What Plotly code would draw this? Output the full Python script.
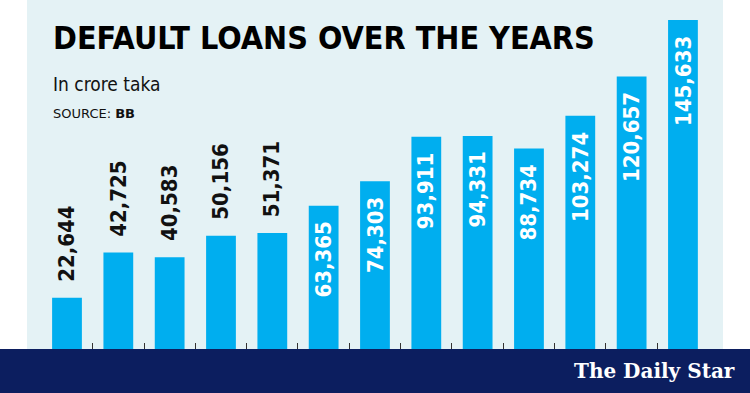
import plotly.graph_objects as go

# ---- data ----
positions = list(range(13))
values = [22644, 42725, 40583, 50156, 51371, 63365, 74303, 93911, 94331, 88734, 103274, 120657, 145633]
labels = [f"{v:,}" for v in values]
n_outside = 5  # first five labels sit above the bars

title = "DEFAULT LOANS OVER THE YEARS"
subtitle = "In crore taka"
source = "SOURCE: <b>BB</b>"
brand = "The Daily Star"

BAR = "#00AEEF"
PANEL = "#E4F2F5"
NAVY = "#0C1E5F"
COND = "DejaVu Sans Condensed, Liberation Sans Narrow, DejaVu Sans, sans-serif"

W, H = 750, 393
fig = go.Figure(go.Bar(x=positions, y=values, marker_color=BAR, marker_line_width=0,
                       width=0.58, hoverinfo="skip"))

ann = []
for i, (p, v, t) in enumerate(zip(positions, values, labels)):
    if i < n_outside:
        ann.append(dict(x=p, y=v, text=f"<b>{t}</b>", textangle=-90, showarrow=False,
                        xanchor="center", yanchor="bottom", yshift=14,
                        font=dict(family=COND, size=22, color="#111111")))
    else:
        ann.append(dict(x=p, y=v, text=f"<b>{t}</b>", textangle=-90, showarrow=False,
                        xanchor="center", yanchor="top", yshift=-14,
                        font=dict(family=COND, size=22, color="white")))

ann += [
    dict(xref="paper", yref="paper", x=51 / W, y=1 - 38 / 349, xanchor="left", yanchor="middle",
         text=f"<b>{title}</b>", showarrow=False,
         font=dict(family=COND, size=32, color="#000000")),
    dict(xref="paper", yref="paper", x=51 / W, y=1 - 84 / 349, xanchor="left", yanchor="middle",
         text=subtitle, showarrow=False,
         font=dict(family=COND, size=19, color="#111111")),
    dict(xref="paper", yref="paper", x=51 / W, y=1 - 113 / 349, xanchor="left", yanchor="middle",
         text=source, showarrow=False,
         font=dict(family="DejaVu Sans, sans-serif", size=13, color="#111111")),
    dict(xref="paper", yref="paper", x=737 / W, y=-22 / 349, xanchor="right", yanchor="middle",
         text=f"<b>{brand}</b>", showarrow=False,
         font=dict(family="DejaVu Serif, Liberation Serif, serif", size=20, color="white")),
]

shapes = [
    dict(type="rect", xref="paper", yref="paper", x0=27 / W, x1=723 / W, y0=0, y1=1,
         fillcolor=PANEL, line_width=0, layer="below"),
    dict(type="rect", xref="paper", yref="paper", x0=0, x1=1, y0=-44 / 349, y1=0,
         fillcolor=NAVY, line_width=0, layer="above"),
]

pitch = 51.33
r0 = -67 / pitch
fig.update_layout(
    width=W, height=H, margin=dict(l=0, r=0, t=0, b=44),
    paper_bgcolor="white", plot_bgcolor="rgba(0,0,0,0)",
    showlegend=False, annotations=ann, shapes=shapes,
    xaxis=dict(range=[r0, r0 + W / pitch], showgrid=False, zeroline=False, showline=False,
               tickvals=[p + 0.5 for p in positions[:-1]], ticktext=[""] * 12,
               ticks="inside", ticklen=6, tickwidth=1, tickcolor="#333333", fixedrange=True),
    yaxis=dict(range=[0, 154486], visible=False, fixedrange=True),
)
fig.write_html("out.html", config={"displayModeBar": False})
